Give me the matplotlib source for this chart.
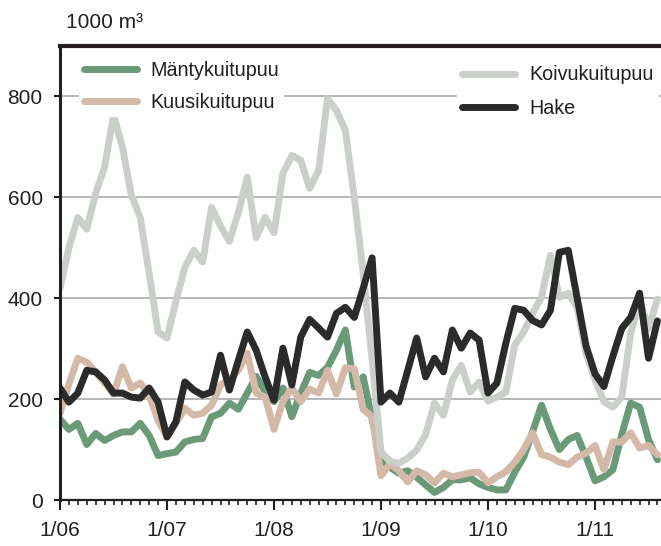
import matplotlib
matplotlib.use("Agg")
import matplotlib.pyplot as plt
from matplotlib.ticker import MultipleLocator
import numpy as np

plt.rcParams['font.family'] = ['Liberation Sans Narrow', 'Liberation Sans', 'DejaVu Sans']

# monthly values, 1/06 .. 8/11 (1000 m3)
mantykuitupuu = [160, 140, 152, 110, 132, 118, 128, 135, 135, 152, 128, 88,
                 92, 95, 115, 120, 122, 165, 172, 192, 180, 212, 245, 215,
                 195, 222, 165, 212, 253, 247, 263, 297, 337, 224, 244, 160,
                 80, 65, 53, 58, 45, 30, 15, 25, 40, 40, 44, 32,
                 25, 20, 20, 55, 85, 135, 188, 140, 100, 120, 128, 85,
                 38, 46, 60, 130, 192, 184, 120, 80]
kuusikuitupuu = [172, 230, 281, 273, 254, 232, 210, 264, 222, 232, 208, 158,
                 125, 152, 182, 168, 172, 188, 228, 238, 257, 291, 212, 204,
                 140, 195, 222, 195, 220, 212, 257, 210, 262, 260, 180, 165,
                 48, 72, 58, 36, 58, 50, 34, 53, 46, 50, 54, 55,
                 34, 46, 56, 75, 100, 133, 90, 85, 75, 70, 85, 93,
                 108, 60, 115, 115, 133, 103, 108, 90]
koivukuitupuu = [420, 500, 560, 537, 608, 660, 763, 700, 605, 560, 449, 333,
                 321, 394, 461, 495, 472, 580, 543, 513, 570, 640, 520, 560,
                 530, 647, 683, 673, 618, 653, 796, 772, 733, 600, 450, 280,
                 95, 77, 73, 83, 99, 129, 192, 168, 238, 267, 214, 234,
                 196, 204, 214, 307, 333, 370, 402, 485, 402, 410, 382, 290,
                 238, 195, 184, 204, 330, 395, 340, 398]
hake = [222, 194, 212, 257, 254, 238, 212, 212, 204, 202, 222, 194,
        125, 155, 234, 218, 208, 214, 287, 218, 277, 333, 297, 244,
        198, 301, 228, 323, 358, 341, 323, 370, 382, 362, 420, 480,
        194, 212, 194, 257, 321, 244, 281, 254, 337, 301, 331, 317,
        212, 232, 311, 380, 376, 356, 347, 376, 491, 495, 400, 305,
        250, 225, 285, 340, 362, 410, 281, 355]

year_labels = ['1/06', '1/07', '1/08', '1/09', '1/10', '1/11']

c_mänty = '#6b9a79'
c_kuusi = '#d5b9a8'
c_koivu = '#cacfca'
c_hake = '#2b2b2b'
ink = '#231f20'
fs_tick = 15
fs_leg = 14.2

months = np.arange(len(hake))

fig = plt.figure(figsize=(6.61, 5.46), dpi=100)
ax = fig.add_axes([60 / 661, 46 / 546, 601 / 661, 454 / 546])

lw = 5
kw = dict(lw=lw, solid_capstyle='round', solid_joinstyle='round')
l1, = ax.plot(months, mantykuitupuu, color=c_mänty, zorder=3, **kw)
l2, = ax.plot(months, kuusikuitupuu, color=c_kuusi, zorder=4, **kw)
l3, = ax.plot(months, koivukuitupuu, color=c_koivu, zorder=5, **kw)
l4, = ax.plot(months, hake, color=c_hake, zorder=6, **kw)

ax.set_xlim(0, 67.4)
ax.set_ylim(0, 900)

for y in range(200, 900, 200):
    ax.axhline(y, color='#a3a3a3', lw=1.1, zorder=1)

ax.set_yticks(range(0, 900, 200))
ax.set_xticks(np.arange(len(year_labels)) * 12)
ax.set_xticklabels(year_labels)
ax.xaxis.set_minor_locator(MultipleLocator(1))

ax.tick_params(axis='y', direction='out', length=4.5, width=1.5, pad=8,
               labelsize=fs_tick, colors=ink)
ax.tick_params(axis='x', which='major', direction='out', length=7, width=1.5,
               pad=8, labelsize=fs_tick, colors=ink)
ax.tick_params(axis='x', which='minor', direction='out', length=3.8, width=1.2,
               colors=ink)

ax.spines['right'].set_visible(False)
ax.spines['left'].set_linewidth(2.2)
ax.spines['top'].set_linewidth(3)
ax.spines['bottom'].set_linewidth(1.6)
for s in ['left', 'top', 'bottom']:
    ax.spines[s].set_color(ink)
    ax.spines[s].set_zorder(10)

fig.text(66 / 661, 1 - 23 / 546, '1000 m³', fontsize=fs_tick, color=ink,
         ha='left', va='center')

leg_kw = dict(fontsize=fs_leg, handlelength=2.7, handletextpad=0.7,
              borderpad=0.25, frameon=True, fancybox=False,
              framealpha=1, facecolor='white', edgecolor='none',
              loc='upper left', borderaxespad=0)
leg1 = ax.legend([l1, l2], ['Mäntykuitupuu', 'Kuusikuitupuu'],
                 bbox_to_anchor=(0.031, 0.977), labelspacing=0.62, **leg_kw)
for t in leg1.get_texts():
    t.set_color(ink)
ax.add_artist(leg1)
leg2 = ax.legend([l3, l4], ['Koivukuitupuu', 'Hake'],
                 bbox_to_anchor=(0.661, 0.968), labelspacing=0.72, **leg_kw)
for t in leg2.get_texts():
    t.set_color(ink)
leg1.set_zorder(20)
leg2.set_zorder(20)

fig.savefig('out.png', dpi=100)
